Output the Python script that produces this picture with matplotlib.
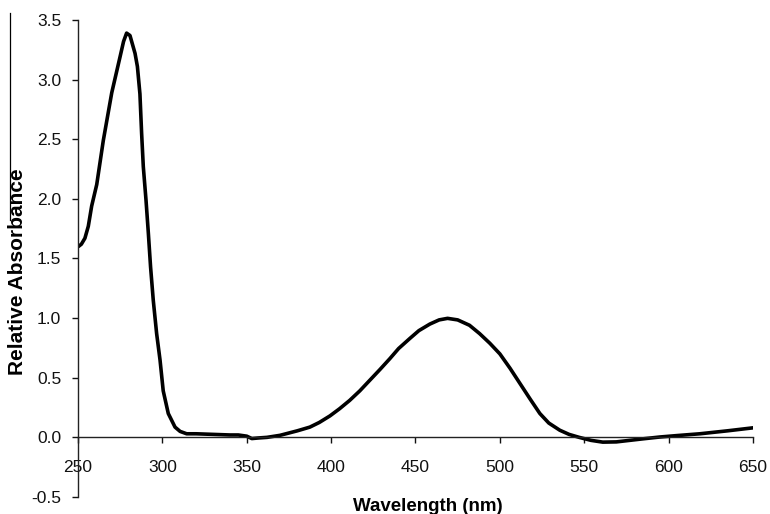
import matplotlib.pyplot as plt
from matplotlib.lines import Line2D

plt.rcParams['font.family'] = ['Liberation Sans', 'DejaVu Sans']

# Spectrum (wavelength in nm, relative absorbance)
wavelength = [250.2, 252, 254.1, 256.1, 258.1, 261.1, 265, 270, 274.9, 277, 278.8,
              280.8, 283.8, 285.2, 286.7, 287.7, 288.7, 290.3, 291.7, 293.0,
              294.6, 296.6, 298.6, 300.5, 303.5, 307.5, 310.5, 314.4, 320,
              330, 340, 345, 350, 353, 357, 362, 369.7, 380, 387.4, 393, 399.3,
              405, 411, 417, 423, 429, 434.8, 440, 446.7, 452, 458.5, 464, 469,
              475, 482, 488, 494, 500, 506, 512, 518, 523.7, 529, 535.5, 541,
              547, 554, 561, 569, 577, 585, 594.8, 605, 618.5, 635, 650]
absorbance = [1.60, 1.62, 1.67, 1.77, 1.94, 2.12, 2.49, 2.89, 3.19, 3.32, 3.39,
              3.37, 3.22, 3.11, 2.88, 2.55, 2.27, 1.99, 1.71, 1.43,
              1.15, 0.87, 0.65, 0.39, 0.20, 0.086, 0.05, 0.03, 0.03,
              0.025, 0.02, 0.02, 0.01, -0.01, -0.005, 0.0, 0.017, 0.055, 0.086, 0.125, 0.18,
              0.24, 0.31, 0.39, 0.48, 0.57, 0.66, 0.745, 0.83, 0.895, 0.95, 0.985, 0.998,
              0.985, 0.94, 0.87, 0.79, 0.70, 0.58, 0.45, 0.32, 0.20, 0.12, 0.06, 0.025,
              0.0, -0.025, -0.04, -0.038, -0.025, -0.012, 0.003, 0.015, 0.03, 0.055, 0.08]

x_ticks = [250, 300, 350, 400, 450, 500, 550, 600, 650]
y_ticks = [-0.5, 0.0, 0.5, 1.0, 1.5, 2.0, 2.5, 3.0, 3.5]

fig = plt.figure(figsize=(7.7, 5.14), dpi=100)
ax = fig.add_axes([0.1013, 0.0331, 0.8766, 0.928])

ax.plot(wavelength, absorbance, color='black', linewidth=2.6,
        solid_joinstyle='round', solid_capstyle='round')

ax.set_xlim(250, 650)
ax.set_ylim(-0.5, 3.5)
ax.set_xticks(x_ticks)
ax.set_yticks(y_ticks)
ax.set_yticklabels([f'{v:.1f}' for v in y_ticks])

# x axis crosses at zero, no frame
ax.spines['top'].set_visible(False)
ax.spines['right'].set_visible(False)
ax.spines['bottom'].set_position(('data', 0))
for side in ['bottom', 'left']:
    ax.spines[side].set_linewidth(1.0)
    ax.spines[side].set_color('#222222')

ax.tick_params(axis='x', direction='out', length=4, width=1.0, pad=12, labelsize=12.5, colors='#111111')
ax.tick_params(axis='y', direction='out', length=4, width=1.0, pad=8, labelsize=12.5, colors='#111111')

fig.text(428 / 770, 1 - 498 / 514, 'Wavelength (nm)', ha='center', va='top',
         fontsize=13.5, fontweight='bold')
fig.text(18 / 770, 1 - 272 / 514, 'Relative Absorbance', ha='center', va='center',
         rotation=90, fontsize=15, fontweight='bold')

# stray border line at the far left of the source image
fig.add_artist(Line2D([9.5 / 770, 9.5 / 770], [1 - 13 / 514, 1 - 220 / 514],
                      color='black', linewidth=0.9))

fig.savefig('out.png', dpi=100)
